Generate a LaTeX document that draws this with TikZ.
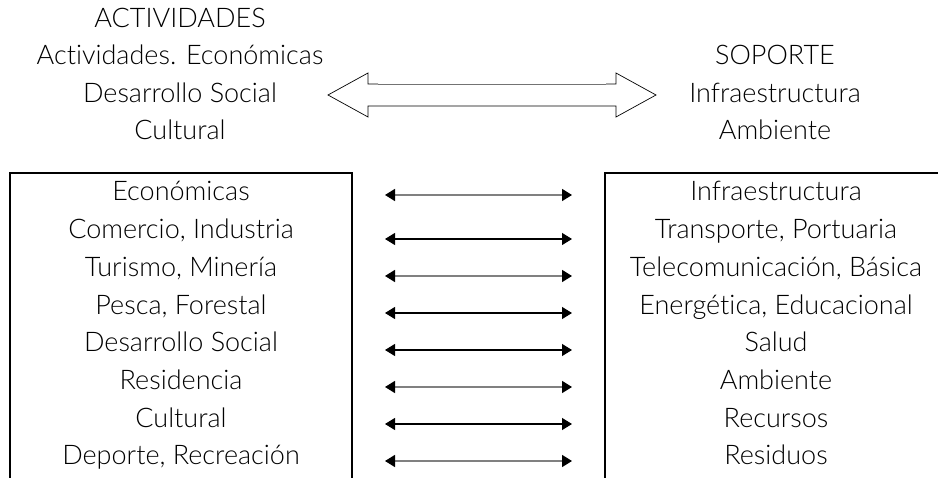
\documentclass[tikz,border=0pt]{standalone}
\usepackage{fontspec}
\setmainfont{Lato Light}[Ligatures=NoCommon]
\usetikzlibrary{arrows.meta}
\begin{document}
\begin{tikzpicture}[x=1pt,y=-1pt,
  lbl/.style={anchor=base,inner sep=0pt,font=\fontsize{27}{31}\selectfont},
  boxline/.style={line width=1.8pt},
  link/.style={line width=1.2pt,{Triangle[length=10pt,width=12pt,color=black]}-{Triangle[length=10pt,width=12pt,color=black]}},
  greylink/.style={link,line width=1.6pt,draw=black!50},
  bigarrow/.style={line width=0.7pt}]
\useasboundingbox (0,0) rectangle (938,478);
% headers
\node[lbl] (h1) at (180,28) {ACTIVIDADES};
\node[lbl] (h2) at (180,65) {Actividades. Económicas};
\node[lbl] (h3) at (180,103) {Desarrollo Social};
\node[lbl] (h4) at (180,140) {Cultural};
\node[lbl] (s1) at (775,65) {SOPORTE};
\node[lbl] (s2) at (775,103) {Infraestructura};
\node[lbl] (s3) at (775,140) {Ambiente};
% big double arrow
\draw[bigarrow] (378,84) -- (368,84) -- (368,73) -- (328,95) -- (368,117) -- (368,106) -- (616,106)
  -- (616,117) -- (656,95) -- (616,73) -- (616,84) -- (606,84);
\draw[bigarrow,draw=black!55] (378,84) -- (606,84);
% boxes (open at bottom)
\draw[boxline] (10,480) -- (10,173) -- (352,173) -- (352,480);
\draw[boxline] (605,480) -- (605,173) -- (940,173);
% left items
\foreach \t [count=\i] in {Económicas,{Comercio, Industria},{Turismo, Minería},{Pesca, Forestal},Desarrollo Social,Residencia,Cultural,{Deporte, Recreación}}{
  \node[lbl] (l\i) at (181,{163.3+37.7*\i}) {\t};
}
\foreach \t [count=\i] in {Infraestructura,{Transporte, Portuaria},{Telecomunicación, Básica},{Energética, Educacional},Salud,Ambiente,Recursos,Residuos}{
  \node[lbl] (r\i) at (776,{163.3+37.7*\i}) {\t};
}
% small arrows
\foreach \y/\s [count=\i] in {195/greylink,239/link,276/greylink,313/link,350/link,387/greylink,424/link,461/greylink}{
  \coordinate (al\i) at (385,\y);
  \coordinate (ar\i) at (572,\y);
  \draw[\s] (al\i) -- (ar\i);
}
\end{tikzpicture}
\end{document}
